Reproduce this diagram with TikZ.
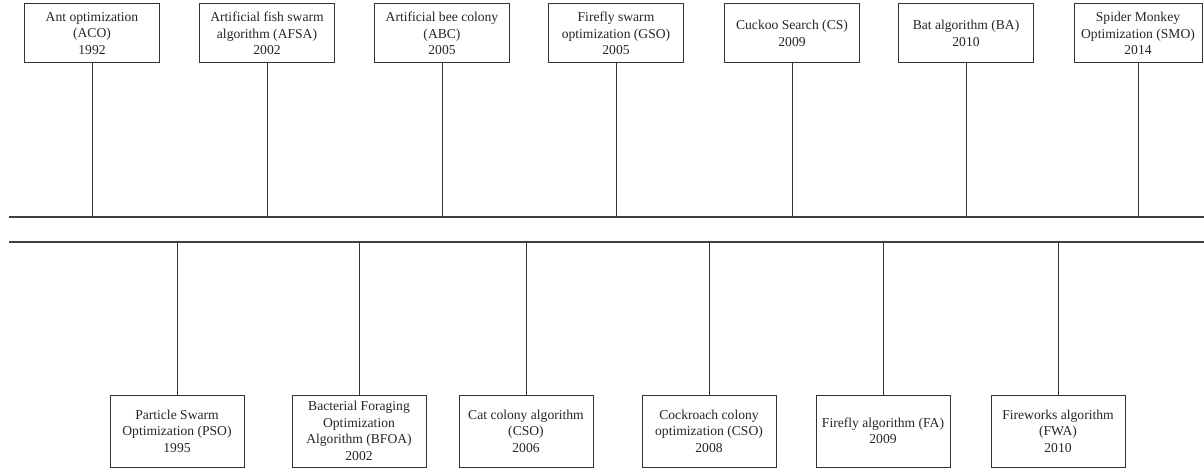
\documentclass[tikz,border=0pt]{standalone}
\usepackage{fontspec}
\setmainfont{Liberation Serif}
\begin{document}
\begin{tikzpicture}[x=1pt,y=-1pt,
  ev/.style={draw=black!80, line width=1pt, fill=white, inner sep=0pt,
    minimum width=135pt, align=center, text=black!85,
    font=\fontsize{13.6}{16.5}\selectfont},
  topev/.style={ev, minimum height=59pt},
  botev/.style={ev, minimum height=72pt, minimum width=134pt},
  axis/.style={draw=black!75, line width=1.1pt},
  conn/.style={draw=black!80, line width=1pt}]
\useasboundingbox (0,0) rectangle (1204,470);
% axis lines
\coordinate (L1) at (9,217);
\coordinate (R1) at (1204,217);
\coordinate (L2) at (9,242);
\coordinate (R2) at (1204,242);
\draw[axis] (L1) -- (R1);
\draw[axis] (L2) -- (R2);
% top events
\node[topev] (t1) at (92,33.5) {Ant optimization\\(ACO)\\1992};
\node[topev] (t2) at (267,33.5) {Artificial fish swarm\\algorithm (AFSA)\\2002};
\node[topev] (t3) at (442,33.5) {Artificial bee colony\\(ABC)\\2005};
\node[topev] (t4) at (616,33.5) {Firefly swarm\\optimization (GSO)\\2005};
\node[topev] (t5) at (792,33.5) {Cuckoo Search (CS)\\2009};
\node[topev] (t6) at (966,33.5) {Bat algorithm (BA)\\2010};
\node[topev, minimum width=128pt] (t7) at (1138,33.5) {Spider Monkey\\Optimization (SMO)\\2014};
% bottom events
\node[botev] (b1) at (177,431) {Particle Swarm\\Optimization (PSO)\\1995};
\node[botev] (b2) at (359,431) {Bacterial Foraging\\Optimization\\Algorithm (BFOA)\\2002};
\node[botev] (b3) at (526,431) {Cat colony algorithm\\(CSO)\\2006};
\node[botev] (b4) at (709,431) {Cockroach colony\\optimization (CSO)\\2008};
\node[botev] (b5) at (883,431) {Firefly algorithm (FA)\\2009};
\node[botev] (b6) at (1058,431) {Fireworks algorithm\\(FWA)\\2010};
% connectors
\foreach \n in {t1,t2,t3,t4,t5,t6,t7}
  \draw[conn] (\n) -- (\n |- L1);
\foreach \n in {b1,b2,b3,b4,b5,b6}
  \draw[conn] (\n) -- (\n |- L2);
\end{tikzpicture}
\end{document}
